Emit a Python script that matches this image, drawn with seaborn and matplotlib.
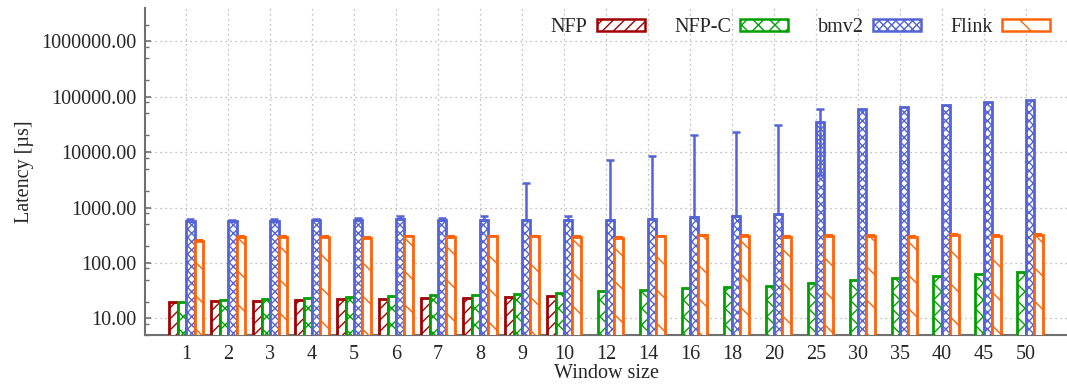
import numpy as np
import pandas as pd
import matplotlib
matplotlib.use("Agg")
import matplotlib.pyplot as plt
from matplotlib.patches import Patch
from matplotlib.ticker import FixedLocator, FixedFormatter, NullFormatter
import seaborn as sns

# ---- data -------------------------------------------------------------
windows = ["1", "2", "3", "4", "5", "6", "7", "8", "9", "10", "12", "14",
           "16", "18", "20", "25", "30", "35", "40", "45", "50"]
systems = ["NFP", "NFP-C", "bmv2", "Flink"]

nfp = [20, 20.8, 20.8, 21.4, 22, 22.3, 22.9, 23.6, 24.6, 25.2]
nfp_c = [20, 21.4, 22, 22.9, 23.9, 24.9, 26, 26.7, 27.9, 29, 31, 32.9,
         35.2, 37.3, 38.8, 43.8, 48.8, 54, 58.7, 63.7, 68]
bmv2 = [560, 560, 575, 593, 600, 617, 600, 600, 600, 600, 608, 625,
        668, 697, 775, 35500, 59800, 64300, 70800, 79100, 86100]
bmv2_low = [560, 560, 575, 593, 600, 617, 600, 600, 600, 600, 608, 625,
            668, 697, 775, 3850, 59800, 64300, 70800, 79100, 86100]
bmv2_high = [617, 600, 617, 617, 660, 710, 640, 718, 2740, 718, 7330, 8650,
             20000, 23000, 30300, 61100, 59800, 64300, 70800, 79100, 86100]
flink = [251, 288, 288, 288, 280, 300, 288, 300, 300, 292, 285, 300,
         313, 304, 295, 302, 302, 293, 315, 302, 315]
flink_high = [262, 300, 300, 300, 292, 312, 300, 310, 310, 302, 295, 310,
              325, 315, 305, 315, 315, 305, 328, 315, 328]

ytick_vals = [10, 100, 1000, 10000, 100000, 1000000]
ytick_labels = ["10.00", "100.00", "1000.00", "10000.00", "100000.00", "1000000.00"]

# ---- styles -----------------------------------------------------------
colors = {"NFP": "#a00000", "NFP-C": "#00a000", "bmv2": "#5464d6", "Flink": "#ff6208"}
hatches = {"NFP": "///", "NFP-C": "xx", "bmv2": "xxxx", "Flink": "\\"}

rows = []
for s, vals in zip(systems, [nfp, nfp_c, bmv2, flink]):
    for w, v in zip(windows, vals):
        rows.append({"window": w, "system": s, "latency": v})
df = pd.DataFrame(rows)

sns.set_style("white")
plt.rcParams["font.family"] = ["Liberation Serif", "DejaVu Serif"]
plt.rcParams["hatch.linewidth"] = 1.0
plt.rcParams["axes.linewidth"] = 1.5

FS = 14.5

fig = plt.figure(figsize=(10.67, 3.87), dpi=100)
ax = fig.add_axes([145 / 1067, 52 / 387, 922 / 1067, 327 / 387])
ax.set_yscale("log")

sns.barplot(data=df, x="window", y="latency", hue="system", order=windows,
            hue_order=systems, width=0.8, errorbar=None, legend=False, ax=ax,
            zorder=3)

for cont, s in zip(ax.containers, systems):
    for p in cont.patches:
        p.set_facecolor("white")
        p.set_edgecolor(colors[s])
        p.set_hatch(hatches[s])
        p.set_linewidth(2.0)
        p.set_zorder(3)

# error bars
def centers(cont):
    return [p.get_x() + p.get_width() / 2 for p in cont.patches]

bx = centers(ax.containers[2])
bm = np.array(bmv2, float)
yerr_b = [bm - np.array(bmv2_low, float), np.array(bmv2_high, float) - bm]
mask = (yerr_b[0] + yerr_b[1]) > 0
ax.errorbar(np.array(bx)[mask], bm[mask],
            yerr=[yerr_b[0][mask], yerr_b[1][mask]], fmt="none",
            ecolor=colors["bmv2"], elinewidth=1.8, capsize=3, capthick=1.8, zorder=4)
fx = centers(ax.containers[3])
fm = np.array(flink, float)
ax.errorbar(fx, fm, yerr=[np.zeros_like(fm), np.array(flink_high, float) - fm],
            fmt="none", ecolor=colors["Flink"], elinewidth=1.5, capsize=3,
            capthick=1.5, zorder=4)

ax.set_ylim(5, 4e6)
ax.set_xlim(-0.98, 20.98)
ax.yaxis.set_major_locator(FixedLocator(ytick_vals))
ax.yaxis.set_major_formatter(FixedFormatter(ytick_labels))
minor = [m * 10 ** e for e in range(0, 7) for m in (2, 5, 8)]
ax.yaxis.set_minor_locator(FixedLocator(minor))
ax.yaxis.set_minor_formatter(NullFormatter())

ax.tick_params(axis="y", which="major", direction="in", length=4, width=1.2,
               color="#707070", labelsize=FS, pad=6, left=True)
ax.tick_params(axis="y", which="minor", direction="in", length=3, width=1.0,
               color="#707070", left=True)
ax.tick_params(axis="x", length=0, labelsize=FS, pad=7)

ax.grid(True, which="major", axis="both", color="#aaaaaa", linestyle=(0, (1, 3)),
        linewidth=0.9, zorder=0)
ax.set_axisbelow(True)

for side in ["top", "right"]:
    ax.spines[side].set_visible(False)
for side in ["left", "bottom"]:
    ax.spines[side].set_color("#707070")
    ax.spines[side].set_linewidth(1.5)

ax.set_xlabel("Window size", fontsize=FS, labelpad=0)
ax.set_ylabel("Latency [µs]", fontsize=FS, labelpad=5)

handles = [Patch(facecolor="white", edgecolor=colors[s], hatch=hatches[s],
                 linewidth=1.8, label=s) for s in systems]
leg = fig.legend(handles=handles, loc="upper right", ncol=4,
                 bbox_to_anchor=(1050 / 1067, 1 - 18 / 387), frameon=False,
                 markerfirst=False, fontsize=FS, handlelength=2.4,
                 handleheight=0.6, handletextpad=0.45, columnspacing=1.45,
                 borderpad=0, borderaxespad=0)

fig.savefig("out.png", dpi=100)
